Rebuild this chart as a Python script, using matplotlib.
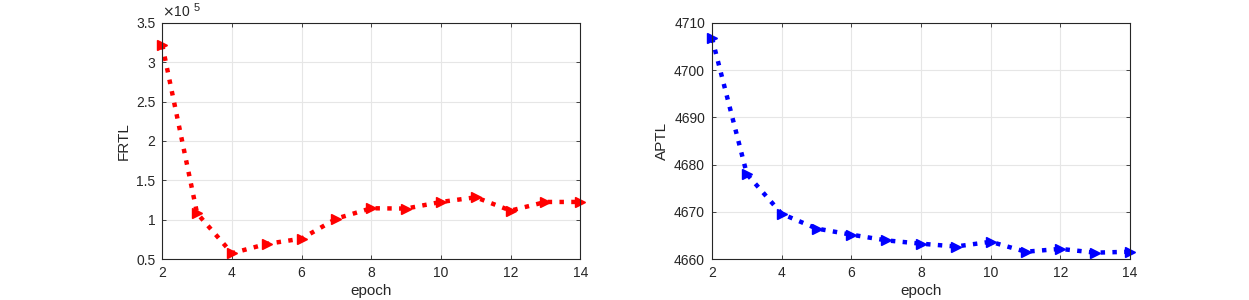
import numpy as np
import matplotlib.pyplot as plt

plt.rcParams['font.family'] = ['Liberation Sans', 'DejaVu Sans']

# datos
epoch = [2, 3, 4, 5, 6, 7, 8, 9, 10, 11, 12, 13, 14]
frtl = [3.217, 1.083, 0.577, 0.695, 0.762, 1.016, 1.147, 1.143, 1.227, 1.286, 1.117, 1.227, 1.227]  # x 1e5
aptl = [4706.7, 4678.0, 4669.6, 4666.5, 4665.2, 4664.0, 4663.3, 4662.7, 4663.7, 4661.6, 4662.2, 4661.4, 4661.6]

xticks = [2, 4, 6, 8, 10, 12, 14]
frtl_ticks = [0.5, 1, 1.5, 2, 2.5, 3, 3.5]
aptl_ticks = [4660, 4670, 4680, 4690, 4700, 4710]

fig = plt.figure(figsize=(12.49, 3.0), dpi=100)
ax1 = fig.add_axes([0.1299, 0.1357, 0.3347, 0.7887])
ax2 = fig.add_axes([0.5701, 0.1357, 0.3347, 0.7887])

def estilo(ax):
    ax.set_xlim(2, 14)
    ax.set_xticks(xticks)
    ax.grid(True, color='#e6e6e6', linewidth=0.8)
    ax.set_axisbelow(True)
    for s in ax.spines.values():
        s.set_color('#262626')
        s.set_linewidth(0.8)
    ax.tick_params(direction='in', length=3, width=0.6, color='#262626',
                   labelsize=10, labelcolor='#262626', top=True, right=True, pad=5)
    ax.set_xlabel('epoch', fontsize=11, color='#262626', labelpad=3)

# FRTL
ax1.plot(epoch, frtl, linestyle=':', color='red', linewidth=3.2,
         marker='>', markersize=6.5, clip_on=False)
estilo(ax1)
ax1.set_ylim(0.5, 3.5)
ax1.set_yticks(frtl_ticks)
ax1.set_yticklabels(['0.5', '1', '1.5', '2', '2.5', '3', '3.5'])
ax1.set_ylabel('FRTL', fontsize=11, color='#262626', labelpad=4)
ax1.text(0.0, 1.015, r'$\times$10', transform=ax1.transAxes, fontsize=10,
         color='#262626', ha='left', va='bottom')
ax1.text(0.076, 1.04, '5', transform=ax1.transAxes, fontsize=8,
         color='#262626', ha='left', va='bottom')

# APTL
ax2.plot(epoch, aptl, linestyle=':', color='blue', linewidth=3.2,
         marker='>', markersize=6.5, clip_on=False)
estilo(ax2)
ax2.set_ylim(4660, 4710)
ax2.set_yticks(aptl_ticks)
ax2.set_ylabel('APTL', fontsize=11, color='#262626', labelpad=4)

fig.savefig('out.png', dpi=100)
